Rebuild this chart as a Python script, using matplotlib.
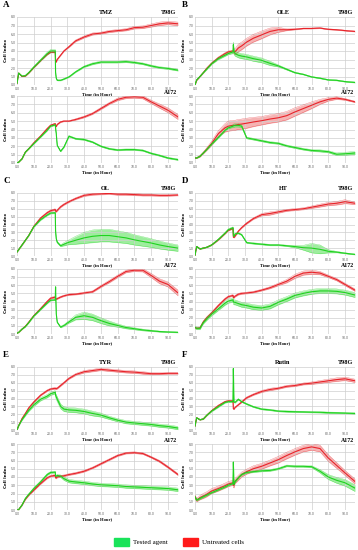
import numpy as np
import matplotlib
matplotlib.use("Agg")
import matplotlib.pyplot as plt
from matplotlib.patches import Patch

# common time grid (hours)
hours = [0, 1, 3, 5, 7, 10, 14, 18, 20, 22.8, 23, 23.4, 24, 26, 28, 31, 35, 40,
         45, 50, 55, 60, 65, 70, 75, 80, 85, 90, 96]

x_ticks = [0, 10, 20, 30, 40, 50, 60, 70, 80, 90]
x_tick_labels = ["0.0", "10.0", "20.0", "30.0", "40.0", "50.0", "60.0", "70.0", "80.0", "90.0"]
y_ticks = [0, 1, 2, 3, 4, 5, 6, 7, 8]
y_tick_labels = ["0.0", "1.0", "2.0", "3.0", "4.0", "5.0", "6.0", "7.0", "8.0"]

# ---- A : TMZ ----
tmz_t98g_agent = [0.2, 1.4, 1.05, 1.1, 1.45, 2.1, 2.9, 3.7, 4.0, 4.0, 1.5, 0.8, 0.55, 0.55, 0.7, 0.95, 1.55, 2.15,
                  2.5, 2.7, 2.7, 2.7, 2.75, 2.65, 2.5, 2.25, 2.05, 1.95, 1.75]
tmz_t98g_agent_sd = [0.03, 0.05, 0.05, 0.05, 0.06, 0.08, 0.1, 0.15, 0.18, 0.18, 0.1, 0.05, 0.05, 0.05, 0.05, 0.06, 0.06,
                     0.08, 0.1, 0.1, 0.1, 0.1, 0.1, 0.1, 0.1, 0.1, 0.1, 0.1, 0.1]
tmz_t98g_ctrl = [0.2, 1.4, 1.0, 1.05, 1.4, 2.05, 2.85, 3.6, 3.85, 3.85, 3.0, 2.7, 3.0, 3.5, 4.0, 4.5, 5.2, 5.65,
                 6.0, 6.1, 6.3, 6.4, 6.5, 6.75, 6.8, 7.0, 7.2, 7.3, 7.2]
tmz_t98g_ctrl_sd = [0.02, 0.03, 0.03, 0.03, 0.03, 0.04, 0.05, 0.06, 0.06, 0.06, 0.05, 0.05, 0.05, 0.05, 0.06, 0.08,
                    0.1, 0.12, 0.12, 0.12, 0.12, 0.12, 0.12, 0.15, 0.15, 0.18, 0.2, 0.2, 0.2]
tmz_a172_agent = [0, 0.1, 0.5, 1.3, 1.7, 2.3, 3.1, 3.9, 4.4, 4.55, 4.2, 3.5, 2.1, 1.4, 1.9, 3.2, 2.9, 2.8,
                  2.5, 2.0, 1.7, 1.55, 1.6, 1.6, 1.5, 1.15, 0.9, 0.6, 0.4]
tmz_a172_agent_sd = [0.03, 0.03, 0.04, 0.05, 0.05, 0.05, 0.06, 0.06, 0.06, 0.06, 0.06, 0.06, 0.06, 0.06, 0.06, 0.08,
                     0.08, 0.08, 0.08, 0.08, 0.08, 0.08, 0.08, 0.08, 0.08, 0.08, 0.08, 0.08, 0.08]
tmz_a172_ctrl = [0, 0.1, 0.5, 1.3, 1.7, 2.4, 3.2, 4.1, 4.5, 4.7, 4.5, 4.35, 4.6, 4.9, 5.0, 5.0, 5.2, 5.5,
                 5.9, 6.5, 7.1, 7.6, 7.85, 7.9, 7.85, 7.3, 6.8, 6.3, 5.5]
tmz_a172_ctrl_sd = [0.02, 0.02, 0.03, 0.03, 0.04, 0.04, 0.05, 0.05, 0.05, 0.05, 0.05, 0.05, 0.05, 0.06, 0.06, 0.06,
                    0.08, 0.1, 0.1, 0.12, 0.12, 0.15, 0.15, 0.15, 0.18, 0.2, 0.25, 0.28, 0.3]

# ---- B : OLE ----
ole_t98g_agent = [0, 0.6, 1.0, 1.45, 1.85, 2.5, 3.1, 3.5, 3.7, 3.9, 4.75, 3.9, 3.7, 3.5, 3.4, 3.3, 3.1, 2.9,
                  2.55, 2.25, 1.85, 1.45, 1.25, 0.95, 0.8, 0.6, 0.55, 0.4, 0.3]
ole_t98g_agent_sd = [0.03, 0.04, 0.05, 0.05, 0.06, 0.08, 0.12, 0.12, 0.12, 0.2, 0.3, 0.3, 0.3, 0.3, 0.3, 0.3, 0.3,
                     0.28, 0.25, 0.12, 0.08, 0.06, 0.05, 0.05, 0.05, 0.05, 0.05, 0.05, 0.05]
ole_t98g_ctrl = [0, 0.55, 1.0, 1.45, 1.95, 2.55, 3.2, 3.7, 3.9, 4.0, 4.0, 3.95, 3.9, 4.35, 4.6, 5.05, 5.5, 5.9,
                 6.3, 6.5, 6.5, 6.55, 6.65, 6.65, 6.7, 6.55, 6.5, 6.4, 6.3]
ole_t98g_ctrl_sd = [0.03, 0.04, 0.05, 0.05, 0.06, 0.08, 0.1, 0.1, 0.1, 0.1, 0.2, 0.3, 0.35, 0.45, 0.45, 0.45, 0.45,
                    0.45, 0.4, 0.3, 0.1, 0.06, 0.05, 0.05, 0.05, 0.05, 0.05, 0.05, 0.05]
ole_a172_agent = [0.6, 0.6, 0.8, 1.2, 1.6, 2.25, 3.05, 3.9, 4.2, 4.4, 4.45, 4.45, 4.5, 4.5, 4.4, 3.0, 2.85, 2.65,
                  2.45, 2.35, 2.05, 1.85, 1.65, 1.5, 1.45, 1.35, 1.05, 1.1, 1.2]
ole_a172_agent_sd = [0.05, 0.05, 0.05, 0.06, 0.06, 0.08, 0.1, 0.1, 0.12, 0.15, 0.2, 0.2, 0.2, 0.2, 0.15, 0.1, 0.1,
                     0.1, 0.1, 0.1, 0.1, 0.1, 0.1, 0.1, 0.12, 0.12, 0.15, 0.18, 0.18]
ole_a172_ctrl = [0.6, 0.6, 0.8, 1.2, 1.65, 2.35, 3.5, 4.2, 4.4, 4.5, 4.5, 4.5, 4.5, 4.6, 4.65, 4.75, 4.9, 5.05,
                 5.25, 5.4, 5.65, 6.1, 6.5, 6.9, 7.3, 7.6, 7.75, 7.6, 7.3]
ole_a172_ctrl_sd = [0.05, 0.05, 0.08, 0.1, 0.15, 0.25, 0.35, 0.5, 0.6, 0.6, 0.6, 0.6, 0.6, 0.6, 0.6, 0.6, 0.55,
                    0.5, 0.5, 0.5, 0.5, 0.5, 0.45, 0.4, 0.3, 0.2, 0.15, 0.1, 0.08]

# ---- C : OL ----
ol_t98g_agent = [0.5, 0.8, 1.4, 2.0, 2.6, 3.7, 4.6, 5.2, 5.45, 5.5, 3.2, 2.2, 1.75, 1.3, 1.5, 1.75, 2.0, 2.3,
                 2.5, 2.6, 2.6, 2.45, 2.3, 2.05, 1.85, 1.65, 1.4, 1.2, 1.0]
ol_t98g_agent_sd = [0.03, 0.04, 0.05, 0.05, 0.05, 0.06, 0.08, 0.08, 0.1, 0.1, 0.1, 0.1, 0.1, 0.1, 0.2, 0.3, 0.5,
                    0.7, 0.8, 0.8, 0.8, 0.75, 0.7, 0.65, 0.6, 0.55, 0.5, 0.45, 0.4]
ol_t98g_ctrl = [0.5, 0.8, 1.4, 2.0, 2.6, 3.75, 4.8, 5.5, 5.75, 5.9, 5.7, 5.65, 5.8, 6.25, 6.55, 6.9, 7.3, 7.7,
                7.85, 7.9, 7.95, 7.85, 7.85, 7.8, 7.75, 7.75, 7.7, 7.7, 7.75]
ol_t98g_ctrl_sd = [0.03, 0.04, 0.05, 0.05, 0.05, 0.06, 0.08, 0.1, 0.1, 0.1, 0.1, 0.1, 0.1, 0.1, 0.1, 0.1, 0.1,
                   0.12, 0.12, 0.12, 0.12, 0.12, 0.12, 0.12, 0.12, 0.12, 0.1, 0.1, 0.1]
ol_a172_agent = [0.1, 0.2, 0.6, 0.9, 1.4, 2.2, 3.0, 3.8, 4.15, 4.2, 5.8, 2.5, 1.45, 0.85, 1.05, 1.5, 2.05, 2.25,
                 2.05, 1.65, 1.3, 1.05, 0.8, 0.65, 0.5, 0.4, 0.3, 0.25, 0.2]
ol_a172_agent_sd = [0.03, 0.03, 0.04, 0.04, 0.05, 0.05, 0.06, 0.06, 0.06, 0.06, 0.06, 0.06, 0.06, 0.08, 0.1, 0.15,
                    0.3, 0.45, 0.4, 0.35, 0.3, 0.2, 0.15, 0.12, 0.1, 0.08, 0.06, 0.05, 0.05]
ol_a172_ctrl = [0.1, 0.2, 0.6, 0.95, 1.45, 2.25, 3.1, 4.0, 4.4, 4.55, 4.35, 4.3, 4.35, 4.55, 4.7, 4.85, 4.9, 5.05,
                5.2, 5.85, 6.45, 7.1, 7.7, 7.85, 7.85, 7.2, 6.5, 6.1, 5.05]
ol_a172_ctrl_sd = [0.03, 0.03, 0.04, 0.04, 0.05, 0.05, 0.06, 0.08, 0.1, 0.1, 0.08, 0.08, 0.08, 0.08, 0.08, 0.08,
                   0.08, 0.1, 0.1, 0.12, 0.15, 0.15, 0.15, 0.15, 0.2, 0.25, 0.3, 0.3, 0.35]

# ---- D : HT ----
ht_t98g_agent = [0.1, 1.2, 0.9, 1.0, 1.1, 1.4, 2.1, 2.9, 3.35, 3.6, 2.6, 2.5, 2.8, 2.9, 2.7, 1.7, 1.6, 1.5,
                 1.4, 1.4, 1.3, 1.2, 1.05, 1.0, 0.85, 0.6, 0.5, 0.35, 0.2]
ht_t98g_agent_sd = [0.03, 0.05, 0.05, 0.05, 0.05, 0.05, 0.06, 0.08, 0.1, 0.1, 0.08, 0.08, 0.08, 0.08, 0.08, 0.08,
                    0.08, 0.08, 0.08, 0.08, 0.08, 0.15, 0.3, 0.6, 0.55, 0.2, 0.08, 0.06, 0.05]
ht_t98g_ctrl = [0.1, 1.2, 0.9, 1.0, 1.1, 1.4, 2.05, 2.85, 3.25, 3.5, 2.4, 2.35, 2.5, 3.15, 3.6, 4.15, 4.75, 5.25,
                5.4, 5.6, 5.8, 5.9, 6.0, 6.2, 6.4, 6.6, 6.7, 6.9, 6.7]
ht_t98g_ctrl_sd = [0.03, 0.05, 0.05, 0.05, 0.05, 0.05, 0.06, 0.06, 0.06, 0.06, 0.06, 0.06, 0.06, 0.06, 0.08, 0.1,
                   0.1, 0.15, 0.2, 0.15, 0.12, 0.12, 0.12, 0.15, 0.18, 0.2, 0.22, 0.25, 0.15]
ht_a172_agent = [0.8, 0.7, 0.7, 1.4, 1.85, 2.45, 3.1, 3.8, 4.05, 4.2, 3.95, 3.9, 3.9, 3.75, 3.6, 3.5, 3.3, 3.2,
                 3.4, 3.9, 4.3, 4.75, 5.0, 5.2, 5.3, 5.3, 5.25, 5.1, 4.8]
ht_a172_agent_sd = [0.15, 0.15, 0.15, 0.15, 0.18, 0.2, 0.2, 0.25, 0.25, 0.25, 0.3, 0.3, 0.3, 0.3, 0.3, 0.3, 0.3,
                    0.3, 0.3, 0.3, 0.3, 0.3, 0.3, 0.3, 0.3, 0.3, 0.3, 0.3, 0.3]
ht_a172_ctrl = [0.8, 0.7, 0.75, 1.5, 2.0, 2.6, 3.5, 4.3, 4.6, 4.75, 4.5, 4.5, 4.65, 4.9, 5.0, 5.05, 5.15, 5.4,
                5.7, 6.1, 6.5, 7.1, 7.5, 7.6, 7.5, 7.1, 6.7, 6.1, 5.4]
ht_a172_ctrl_sd = [0.05, 0.05, 0.06, 0.08, 0.1, 0.1, 0.1, 0.1, 0.1, 0.1, 0.1, 0.1, 0.1, 0.1, 0.1, 0.1, 0.1, 0.1,
                   0.12, 0.15, 0.2, 0.25, 0.25, 0.25, 0.2, 0.15, 0.15, 0.15, 0.15]

# ---- E : TYR ----
tyr_t98g_agent = [0, 0.55, 1.3, 1.9, 2.5, 3.2, 3.9, 4.3, 4.6, 4.8, 4.4, 4.2, 3.9, 3.0, 2.65, 2.55, 2.5, 2.35,
                  2.1, 1.9, 1.55, 1.25, 1.0, 0.9, 0.8, 0.7, 0.55, 0.45, 0.25]
tyr_t98g_agent_sd = [0.03, 0.05, 0.08, 0.1, 0.15, 0.2, 0.2, 0.2, 0.2, 0.2, 0.25, 0.3, 0.3, 0.3, 0.3, 0.3, 0.3, 0.3,
                     0.3, 0.25, 0.2, 0.2, 0.2, 0.2, 0.2, 0.2, 0.2, 0.2, 0.2]
tyr_t98g_ctrl = [0, 0.55, 1.45, 2.1, 2.8, 3.55, 4.4, 5.0, 5.2, 5.3, 5.25, 5.25, 5.3, 5.65, 6.0, 6.55, 7.05, 7.4,
                 7.55, 7.7, 7.6, 7.5, 7.4, 7.35, 7.25, 7.15, 7.15, 7.2, 7.2]
tyr_t98g_ctrl_sd = [0.03, 0.05, 0.06, 0.06, 0.08, 0.08, 0.08, 0.1, 0.1, 0.1, 0.1, 0.1, 0.1, 0.1, 0.1, 0.1, 0.12,
                    0.15, 0.15, 0.15, 0.15, 0.15, 0.15, 0.15, 0.15, 0.15, 0.12, 0.1, 0.1]
tyr_a172_agent = [0, 0.05, 0.6, 1.4, 1.9, 2.6, 3.4, 4.3, 4.55, 4.6, 4.1, 4.1, 4.2, 4.1, 3.8, 3.5, 3.4, 3.3,
                  3.15, 3.05, 3.0, 2.95, 2.85, 2.8, 2.75, 2.7, 2.65, 2.6, 2.45]
tyr_a172_agent_sd = [0.03, 0.03, 0.05, 0.06, 0.08, 0.1, 0.1, 0.1, 0.1, 0.1, 0.1, 0.1, 0.12, 0.15, 0.2, 0.2, 0.2,
                     0.2, 0.2, 0.2, 0.2, 0.2, 0.2, 0.2, 0.2, 0.2, 0.2, 0.2, 0.2]
tyr_a172_ctrl = [0, 0.05, 0.6, 1.3, 1.8, 2.4, 3.2, 3.9, 4.1, 4.2, 3.9, 3.9, 4.0, 4.1, 4.15, 4.3, 4.45, 4.7,
                 5.1, 5.6, 6.1, 6.6, 6.9, 6.95, 6.85, 6.4, 5.9, 5.2, 4.3]
tyr_a172_ctrl_sd = [0.03, 0.03, 0.05, 0.05, 0.06, 0.08, 0.1, 0.1, 0.1, 0.1, 0.1, 0.1, 0.1, 0.1, 0.1, 0.1, 0.1, 0.1,
                    0.1, 0.1, 0.1, 0.1, 0.1, 0.1, 0.1, 0.1, 0.12, 0.12, 0.12]

# ---- F : Rutin ----
rutin_t98g_agent = [0.5, 1.55, 1.3, 1.4, 1.85, 2.4, 2.95, 3.5, 3.6, 3.6, 7.8, 3.55, 3.5, 3.9, 3.6, 3.3, 2.95, 2.65,
                    2.55, 2.4, 2.35, 2.32, 2.3, 2.27, 2.25, 2.2, 2.18, 2.15, 2.1]
rutin_t98g_agent_sd = [0.03, 0.05, 0.05, 0.05, 0.06, 0.08, 0.08, 0.08, 0.08, 0.08, 0.05, 0.08, 0.08, 0.08, 0.08,
                       0.08, 0.08, 0.08, 0.08, 0.08, 0.08, 0.08, 0.08, 0.08, 0.08, 0.08, 0.08, 0.08, 0.08]
rutin_t98g_ctrl = [0.5, 1.55, 1.3, 1.4, 1.85, 2.45, 3.1, 3.6, 3.7, 3.7, 2.7, 2.65, 2.85, 3.2, 3.55, 4.1, 4.5, 4.9,
                   5.15, 5.3, 5.55, 5.65, 5.85, 5.95, 6.1, 6.25, 6.4, 6.5, 6.25]
rutin_t98g_ctrl_sd = [0.03, 0.05, 0.05, 0.05, 0.05, 0.06, 0.06, 0.06, 0.06, 0.06, 0.06, 0.06, 0.06, 0.06, 0.08,
                      0.1, 0.1, 0.12, 0.15, 0.12, 0.12, 0.12, 0.12, 0.15, 0.18, 0.2, 0.22, 0.22, 0.2]
rutin_a172_agent = [1.6, 1.2, 1.4, 1.6, 1.8, 2.1, 2.45, 2.8, 3.0, 3.2, 5.8, 3.1, 3.4, 3.9, 4.3, 4.55, 4.65, 4.75,
                    4.8, 5.0, 5.35, 5.3, 5.3, 5.25, 4.7, 4.0, 3.6, 3.3, 2.65]
rutin_a172_agent_sd = [0.1, 0.1, 0.1, 0.1, 0.1, 0.1, 0.1, 0.1, 0.1, 0.1, 0.1, 0.1, 0.1, 0.1, 0.1, 0.1, 0.1, 0.1,
                       0.1, 0.1, 0.1, 0.1, 0.1, 0.12, 0.2, 0.3, 0.35, 0.4, 0.4]
rutin_a172_ctrl = [1.6, 1.2, 1.5, 1.7, 1.9, 2.3, 2.6, 2.95, 3.15, 3.3, 3.0, 3.0, 3.5, 3.9, 4.3, 4.65, 5.0, 5.3,
                   5.7, 6.1, 6.6, 7.05, 7.45, 7.65, 7.45, 6.3, 5.4, 4.5, 3.45]
rutin_a172_ctrl_sd = [0.2, 0.2, 0.25, 0.3, 0.3, 0.3, 0.3, 0.3, 0.3, 0.3, 0.3, 0.3, 0.3, 0.3, 0.3, 0.3, 0.35, 0.35,
                      0.35, 0.4, 0.4, 0.4, 0.4, 0.4, 0.4, 0.4, 0.35, 0.3, 0.3]

agent_line = "#1fd21f"
agent_fill = "#7ee87e"
ctrl_line = "#e8232a"
ctrl_fill = "#f29a9a"

fig = plt.figure(figsize=(3.58, 5.5), dpi=100)
W, H = 358.0, 550.0
serif = "Liberation Serif"


def px_axes(x0, y0, x1, y1):
    # axes from pixel box (top-left origin)
    return fig.add_axes([x0 / W, 1 - y1 / H, (x1 - x0) / W, (y1 - y0) / H])


def fig_text(x, y, s, size, ha="left", weight="bold"):
    fig.text(x / W, 1 - y / H, s, fontsize=size, ha=ha, va="center",
             family=serif, weight=weight)


def draw_panel(ax, agent, agent_sd, ctrl, ctrl_sd):
    t = np.array(hours)
    for vals, sd, lc, fc in [(ctrl, ctrl_sd, ctrl_line, ctrl_fill),
                             (agent, agent_sd, agent_line, agent_fill)]:
        v = np.array(vals)
        s = np.array(sd)
        ax.fill_between(t, v - s, v + s, color=fc, alpha=0.75, lw=0)
        ax.plot(t, v + s, color=lc, lw=0.25, alpha=0.7)
        ax.plot(t, v - s, color=lc, lw=0.25, alpha=0.7)
        ax.plot(t, v, color=lc, lw=0.8)
    ax.set_xlim(0, 96)
    ax.set_ylim(0, 8)
    ax.set_xticks(x_ticks)
    ax.set_xticklabels(x_tick_labels)
    ax.set_yticks(y_ticks)
    ax.set_yticklabels(y_tick_labels)
    ax.tick_params(labelsize=2.2, length=0, pad=1.2, colors="#555555")
    ax.grid(True, color="#cfcfcf", lw=0.5)
    for sp in ax.spines.values():
        sp.set_visible(False)
    ax.set_ylabel("Cell Index", fontsize=3, weight="bold", labelpad=1.5)
    ax.set_xlabel("Time (in Hour)", fontsize=3.3, weight="bold", family=serif, labelpad=1.2)


col_x = [(17, 178), (195, 355)]
rows = [((17, 85), (96, 163)), ((193, 256), (269, 334)), ((367, 430), (444, 510))]
letters = ["A", "B", "C", "D", "E", "F"]
drugs = ["TMZ", "OLE", "OL", "HT", "TYR", "Rutin"]
panels = [
    (tmz_t98g_agent, tmz_t98g_agent_sd, tmz_t98g_ctrl, tmz_t98g_ctrl_sd,
     tmz_a172_agent, tmz_a172_agent_sd, tmz_a172_ctrl, tmz_a172_ctrl_sd),
    (ole_t98g_agent, ole_t98g_agent_sd, ole_t98g_ctrl, ole_t98g_ctrl_sd,
     ole_a172_agent, ole_a172_agent_sd, ole_a172_ctrl, ole_a172_ctrl_sd),
    (ol_t98g_agent, ol_t98g_agent_sd, ol_t98g_ctrl, ol_t98g_ctrl_sd,
     ol_a172_agent, ol_a172_agent_sd, ol_a172_ctrl, ol_a172_ctrl_sd),
    (ht_t98g_agent, ht_t98g_agent_sd, ht_t98g_ctrl, ht_t98g_ctrl_sd,
     ht_a172_agent, ht_a172_agent_sd, ht_a172_ctrl, ht_a172_ctrl_sd),
    (tyr_t98g_agent, tyr_t98g_agent_sd, tyr_t98g_ctrl, tyr_t98g_ctrl_sd,
     tyr_a172_agent, tyr_a172_agent_sd, tyr_a172_ctrl, tyr_a172_ctrl_sd),
    (rutin_t98g_agent, rutin_t98g_agent_sd, rutin_t98g_ctrl, rutin_t98g_ctrl_sd,
     rutin_a172_agent, rutin_a172_agent_sd, rutin_a172_ctrl, rutin_a172_ctrl_sd),
]

for i, data in enumerate(panels):
    r, c = divmod(i, 2)
    x0, x1 = col_x[c]
    (ta, tb), (ba, bb) = rows[r]
    ax_top = px_axes(x0, ta, x1, tb)
    draw_panel(ax_top, *data[:4])
    ax_bot = px_axes(x0, ba, x1, bb)
    draw_panel(ax_bot, *data[4:])
    # labels
    fig_text(x0 - 14 if c == 0 else x0 - 13, ta - 12, letters[i], 6.5)
    fig_text((x0 + x1) / 2 + 8, ta - 5, drugs[i], 4.5, ha="center")
    fig_text(x1 - 2, ta - 4, "T98G", 4.5, ha="right")
    fig_text(x1 - 1, ba - 3.2, "A172", 4.2, ha="right")

# legend
leg = fig.legend(handles=[Patch(facecolor="#19e35a", edgecolor="#19e35a", label="Tested agent"),
                          Patch(facecolor="#ff1a1a", edgecolor="#ff1a1a", label="Untreated cells")],
                 loc="center", bbox_to_anchor=(0.5, 1 - 542 / H), ncol=2, frameon=False,
                 prop={"family": serif, "size": 5}, handlelength=2.2, handleheight=1.4,
                 columnspacing=2.2, handletextpad=0.6)

fig.savefig("out.png", dpi=100)
